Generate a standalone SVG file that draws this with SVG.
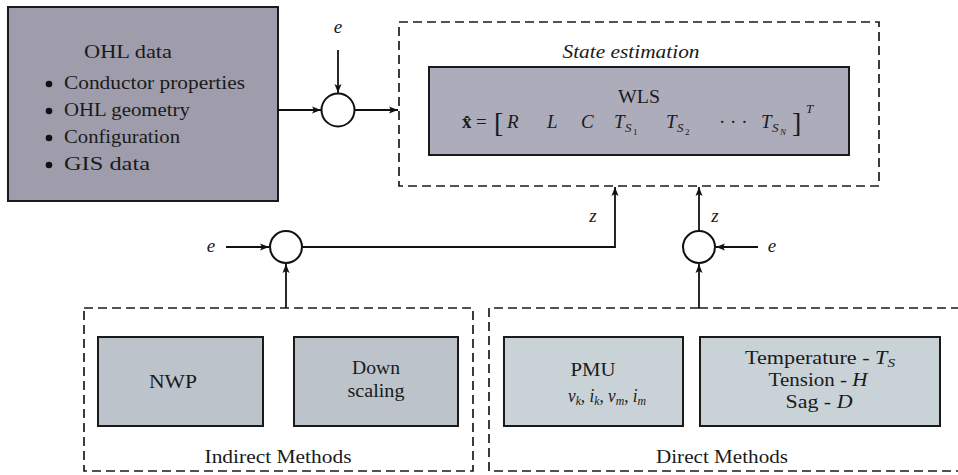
<svg xmlns="http://www.w3.org/2000/svg" width="958" height="475" viewBox="0 0 958 475" font-family="'Liberation Serif', 'DejaVu Serif', serif">
<style>
text{font-family:'Liberation Serif','Noto Serif','DejaVu Serif',serif;fill:#1a1a1a}
.t{font-size:19px}
.m{font-size:19px;font-style:italic}
.s{font-size:13px;font-style:italic}
.box{stroke:#1a1a1a;stroke-width:2}
.dash{fill:none;stroke:#1a1a1a;stroke-width:1.7;stroke-dasharray:9 5}
.c{fill:#fff;stroke:#111;stroke-width:2}
.ln{fill:none;stroke:#111;stroke-width:1.8}
.mid{text-anchor:middle}
</style>
<defs>
<marker id="ah" markerWidth="10" markerHeight="8" refX="9" refY="4" orient="auto" markerUnits="userSpaceOnUse">
<path d="M0,0.5 L9,4 L0,7.5 L2,4 Z" fill="#111"/>
</marker>
</defs>
<g id="ohl">
<rect class="box" x="8" y="7" width="270" height="194" fill="#9f9dab"/>
<text class="t mid" x="128" y="58" textLength="88" lengthAdjust="spacingAndGlyphs">OHL data</text>
<circle cx="49" cy="84" r="3.3" fill="#111"/>
<circle cx="49" cy="111" r="3.3" fill="#111"/>
<circle cx="49" cy="138" r="3.3" fill="#111"/>
<circle cx="49" cy="165" r="3.3" fill="#111"/>
<text class="t" x="64" y="89" textLength="181" lengthAdjust="spacingAndGlyphs">Conductor properties</text>
<text class="t" x="64" y="116" textLength="126" lengthAdjust="spacingAndGlyphs">OHL geometry</text>
<text class="t" x="64" y="143" textLength="116" lengthAdjust="spacingAndGlyphs">Configuration</text>
<text class="t" x="64" y="170" textLength="86" lengthAdjust="spacingAndGlyphs">GIS data</text>
</g>
<g id="sum1"><circle class="c" cx="338" cy="110" r="16.5"/></g>
<g id="sum2"><circle class="c" cx="286" cy="247" r="16"/></g>
<g id="sum3"><circle class="c" cx="699" cy="247" r="16"/></g>
<g id="state-estimation">
<rect class="dash" x="399" y="22" width="480" height="164"/>
<text class="mid" x="631" y="58" style="font-size:19px;font-style:italic" textLength="137" lengthAdjust="spacingAndGlyphs">State estimation</text>
</g>
<g id="wls">
<rect class="box" x="429" y="67" width="420" height="88" fill="#acacba"/>
<text class="t mid" x="639" y="103" textLength="42" lengthAdjust="spacingAndGlyphs">WLS</text>
<text x="462" y="128" style="font-size:19px;font-weight:bold">x&#770;</text>
<text x="476" y="128" class="t">=</text>
<text x="494" y="132" style="font-size:28px">[</text>
<text class="m" x="507" y="128">R</text>
<text class="m" x="547" y="128">L</text>
<text class="m" x="581" y="128">C</text>
<text class="m" x="614" y="128">T</text><text class="s" x="625" y="132">S</text><text x="633" y="135" style="font-size:9px">1</text>
<text class="m" x="666" y="128">T</text><text class="s" x="677" y="132">S</text><text x="685" y="135" style="font-size:9px">2</text>
<text class="t" x="719" y="128">· · ·</text>
<text class="m" x="761" y="128">T</text><text class="s" x="772" y="132">S</text><text x="780" y="135" style="font-size:9px;font-style:italic">N</text>
<text x="792" y="132" style="font-size:28px">]</text>
<text x="806" y="113" style="font-size:13px;font-style:italic">T</text>
</g>
<g id="indirect-methods">
<rect class="dash" x="84" y="308" width="389" height="163"/>
<text class="t mid" x="278" y="463" textLength="147" lengthAdjust="spacingAndGlyphs">Indirect Methods</text>
</g>
<g id="nwp">
<rect class="box" x="98" y="337" width="165" height="89" fill="#bcc3cb"/>
<text class="t mid" x="173" y="388" textLength="48" lengthAdjust="spacingAndGlyphs">NWP</text>
</g>
<g id="downscaling">
<rect class="box" x="294" y="337" width="164" height="89" fill="#bcc3cb"/>
<text class="t mid" x="376" y="374" textLength="48" lengthAdjust="spacingAndGlyphs">Down</text>
<text class="t mid" x="376" y="397" textLength="57" lengthAdjust="spacingAndGlyphs">scaling</text>
</g>
<g id="direct-methods">
<path class="dash" d="M699,308 H489 V471 H960"/>
<path class="dash" d="M699,308 H960"/>
<text class="t mid" x="722" y="463" textLength="132" lengthAdjust="spacingAndGlyphs">Direct Methods</text>
</g>
<g id="pmu">
<rect class="box" x="504" y="337" width="179" height="89" fill="#c8d2d7"/>
<text class="t mid" x="593" y="376" textLength="45" lengthAdjust="spacingAndGlyphs">PMU</text>
<text x="568" y="402" style="font-size:19px;font-style:italic" textLength="78" lengthAdjust="spacingAndGlyphs">v<tspan style="font-size:13px" dy="3">k</tspan><tspan dy="-3" style="font-style:normal">, </tspan>i<tspan style="font-size:13px" dy="3">k</tspan><tspan dy="-3" style="font-style:normal">, </tspan>v<tspan style="font-size:13px" dy="3">m</tspan><tspan dy="-3" style="font-style:normal">, </tspan>i<tspan style="font-size:13px" dy="3">m</tspan></text>
</g>
<g id="sensors">
<rect class="box" x="700" y="337" width="240" height="89" fill="#c8d2d7"/>
<text class="t mid" x="820" y="364" textLength="150" lengthAdjust="spacingAndGlyphs">Temperature - <tspan font-style="italic">T</tspan><tspan font-style="italic" style="font-size:13px" dy="3">S</tspan></text>
<text class="t mid" x="818" y="386" textLength="99" lengthAdjust="spacingAndGlyphs">Tension - <tspan font-style="italic">H</tspan></text>
<text class="t mid" x="819" y="408" textLength="67" lengthAdjust="spacingAndGlyphs">Sag - <tspan font-style="italic">D</tspan></text>
</g>
<g id="labels">
<text class="m mid" x="338" y="33">e</text>
<text class="m mid" x="211" y="252">e</text>
<text class="m mid" x="772" y="252">e</text>
<text class="m mid" x="593" y="222">z</text>
<text class="m mid" x="715" y="222">z</text>
</g>
<g id="connectors">
<line class="ln" x1="278" y1="110" x2="321" y2="110" marker-end="url(#ah)"/>
<line class="ln" x1="338" y1="50" x2="338" y2="93" marker-end="url(#ah)"/>
<line class="ln" x1="355" y1="110" x2="398" y2="110" marker-end="url(#ah)"/>
<line class="ln" x1="226" y1="247" x2="269" y2="247" marker-end="url(#ah)"/>
<line class="ln" x1="286" y1="308" x2="286" y2="264" marker-end="url(#ah)"/>
<path class="ln" d="M302,247 H615 V187" marker-end="url(#ah)"/>
<line class="ln" x1="699" y1="308" x2="699" y2="264" marker-end="url(#ah)"/>
<line class="ln" x1="699" y1="231" x2="699" y2="187" marker-end="url(#ah)"/>
<line class="ln" x1="758" y1="247" x2="716" y2="247" marker-end="url(#ah)"/>
</g>
</svg>
